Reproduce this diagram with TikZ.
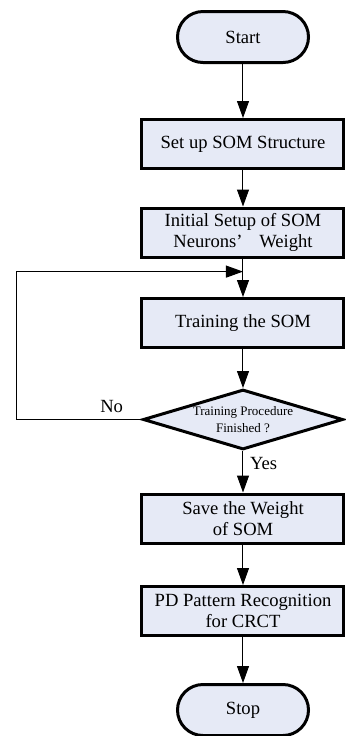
\documentclass[tikz,border=0pt]{standalone}
\usepackage{fontspec}
\setmainfont{Liberation Serif}
\usetikzlibrary{arrows.meta,shapes.geometric}
\definecolor{boxfill}{RGB}{230,234,246}
\def\colx{243}% x of the main column
\def\loopx{17}% x of the feedback line

\begin{document}
\begin{tikzpicture}[x=0.5pt,y=-0.5pt,%
  every node/.style={font=\fontsize{9.3}{10.8}\selectfont},%
  terminal/.style={draw,fill=boxfill,line width=1.5pt,rounded corners=12.75pt,%
    minimum width=65.5pt,minimum height=25.5pt,inner sep=0pt},%
  process/.style={draw,fill=boxfill,line width=1.5pt,minimum width=101pt,%
    minimum height=24.5pt,inner sep=1pt,align=center},%
  decision/.style={diamond,aspect=3.4,draw,fill=boxfill,line width=1.5pt,%
    minimum width=100pt,minimum height=30pt,inner sep=0pt,align=center,%
    font=\fontsize{6.5}{8.5}\selectfont},%
  flow/.style={-{Triangle[length=8.5pt,width=6pt]},line width=0.5pt}]%
  \useasboundingbox (0,0) rectangle (346,736);%
  % Steps of the flow chart
  \node[terminal] (start) at (\colx,37) {Start};%
  \node[process] (setup) at (\colx,144) {Set up SOM Structure};%
  \node[process] (init) at (\colx,232.5) {Initial Setup of SOM\\Neurons’\hspace{0.9em}Weight};%
  \node[process] (train) at (\colx,323) {Training the SOM};%
  \node[decision] (check) at (\colx,419.5) {Training Procedure\\Finished ?};%
  \node[process] (save) at (\colx,518.5) {Save the Weight\\of SOM};%
  \node[process] (recog) at (\colx,611) {PD Pattern Recognition\\for CRCT};%
  \node[terminal] (stop) at (\colx,710) {Stop};%
  % Connectors
  \foreach \from/\to in {start/setup,setup/init,init/train,train/check,save/recog,recog/stop}%
    \draw[flow] (\from) -- (\to);%
  \draw[flow] (check) -- node[right,pos=0.3] (yes) {Yes} (save);%
  % Feedback when training is not finished
  \coordinate (join) at (\colx,271.6);%
  \coordinate (back) at (\loopx,419.5);%
  \draw[flow] (check.west) -- node[above,pos=0.24] (no) {No} (back) |- (join);%
\end{tikzpicture}
\end{document}
